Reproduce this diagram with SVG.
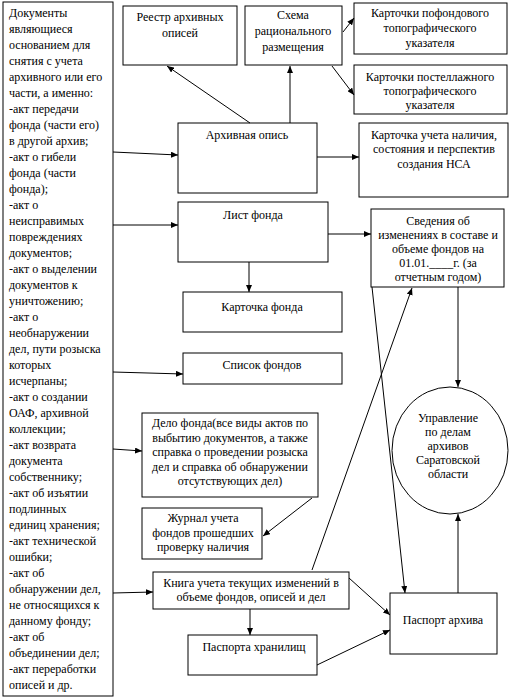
<svg xmlns="http://www.w3.org/2000/svg" width="509" height="700" viewBox="0 0 509 700" font-family="'Liberation Serif', 'Times New Roman', Times, 'DejaVu Serif', serif" font-size="12">
<style>
.box{fill:#fff;stroke:#000;stroke-width:1}
text{font-family:'Liberation Serif','Times New Roman',Times,'DejaVu Serif',serif;font-size:12px;fill:#000}
.c{text-anchor:middle}
.ln{stroke:#000;stroke-width:1;fill:none;marker-end:url(#ah)}
</style>
<defs>
<marker id="ah" markerUnits="userSpaceOnUse" markerWidth="8" markerHeight="6" refX="7" refY="3" orient="auto">
<path d="M0,0 L7,3 L0,6 z" fill="#000"/>
</marker>
</defs>
<rect x="0" y="0" width="509" height="700" fill="#fff"/>

<g id="docs">
<rect class="box" x="3" y="2" width="110" height="694"/>
<text x="9" y="17">
<tspan x="9" y="17">Документы</tspan>
<tspan x="9" dy="16">являющиеся</tspan>
<tspan x="9" dy="16">основанием для</tspan>
<tspan x="9" dy="16">снятия с учета</tspan>
<tspan x="9" dy="16">архивного или его</tspan>
<tspan x="9" dy="16">части, а именно:</tspan>
<tspan x="9" dy="16">-акт  передачи</tspan>
<tspan x="9" dy="16">фонда (части его)</tspan>
<tspan x="9" dy="16">в другой архив;</tspan>
<tspan x="9" dy="16">-акт о гибели</tspan>
<tspan x="9" dy="16">фонда (части</tspan>
<tspan x="9" dy="16">фонда);</tspan>
<tspan x="9" dy="16">-акт о</tspan>
<tspan x="9" dy="16">неисправимых</tspan>
<tspan x="9" dy="16">повреждениях</tspan>
<tspan x="9" dy="16">документов;</tspan>
<tspan x="9" dy="16">-акт о выделении</tspan>
<tspan x="9" dy="16">документов к</tspan>
<tspan x="9" dy="16">уничтожению;</tspan>
<tspan x="9" dy="16">-акт о</tspan>
<tspan x="9" dy="16">необнаружении</tspan>
<tspan x="9" dy="16">дел, пути розыска</tspan>
<tspan x="9" dy="16">которых</tspan>
<tspan x="9" dy="16">исчерпаны;</tspan>
<tspan x="9" dy="16">-акт о создании</tspan>
<tspan x="9" dy="16">ОАФ, архивной</tspan>
<tspan x="9" dy="16">коллекции;</tspan>
<tspan x="9" dy="16">-акт возврата</tspan>
<tspan x="9" dy="16">документа</tspan>
<tspan x="9" dy="16">собственнику;</tspan>
<tspan x="9" dy="16">-акт об изъятии</tspan>
<tspan x="9" dy="16">подлинных</tspan>
<tspan x="9" dy="16">единиц хранения;</tspan>
<tspan x="9" dy="16">-акт технической</tspan>
<tspan x="9" dy="16">ошибки;</tspan>
<tspan x="9" dy="16">-акт об</tspan>
<tspan x="9" dy="16">обнаружении дел,</tspan>
<tspan x="9" dy="16">не относящихся к</tspan>
<tspan x="9" dy="16">данному фонду;</tspan>
<tspan x="9" dy="16">-акт об</tspan>
<tspan x="9" dy="16">объединении дел;</tspan>
<tspan x="9" dy="16">-акт переработки</tspan>
<tspan x="9" dy="16">описей и др.</tspan>
</text>
</g>

<g id="reestr">
<rect class="box" x="123" y="6" width="114" height="59"/>
<text class="c" x="180" y="21">Реестр архивных</text>
<text class="c" x="180" y="37">описей</text>
</g>

<g id="schema">
<rect class="box" x="245" y="6" width="97" height="59"/>
<text class="c" x="293" y="19">Схема</text>
<text class="c" x="293" y="35">рационального</text>
<text class="c" x="293" y="51">размещения</text>
</g>

<g id="kartochki-pofond">
<rect class="box" x="354" y="3" width="153" height="51"/>
<text class="c" x="430" y="17">Карточки пофондового</text>
<text class="c" x="430" y="32">топографического</text>
<text class="c" x="430" y="47">указателя</text>
</g>

<g id="kartochki-postel">
<rect class="box" x="354" y="65" width="153" height="49"/>
<text class="c" x="430" y="81">Карточки постеллажного</text>
<text class="c" x="430" y="95">топографического</text>
<text class="c" x="430" y="109">указателя</text>
</g>

<g id="arh-opis">
<rect class="box" x="178" y="123" width="139" height="70"/>
<text class="c" x="247" y="139">Архивная опись</text>
</g>

<g id="kartochka-ucheta">
<rect class="box" x="359" y="123" width="149" height="74"/>
<text class="c" x="434" y="139">Карточка учета наличия,</text>
<text class="c" x="434" y="153">состояния и перспектив</text>
<text class="c" x="434" y="168">создания НСА</text>
</g>

<g id="list-fonda">
<rect class="box" x="178" y="202" width="150" height="60"/>
<text class="c" x="253" y="219">Лист фонда</text>
</g>

<g id="svedeniya">
<rect class="box" x="371" y="209" width="133" height="78"/>
<text class="c" x="438" y="225">Сведения об</text>
<text class="c" x="438" y="239">изменениях в составе и</text>
<text class="c" x="438" y="253">объеме фондов на</text>
<text class="c" x="438" y="267">01.01.____г. (за</text>
<text class="c" x="438" y="281">отчетным годом)</text>
</g>

<g id="kartochka-fonda">
<rect class="box" x="183" y="292" width="159" height="40"/>
<text class="c" x="262" y="311">Карточка фонда</text>
</g>

<g id="spisok-fondov">
<rect class="box" x="183" y="353" width="159" height="31"/>
<text class="c" x="262" y="369">Список фондов</text>
</g>

<g id="upravlenie">
<ellipse class="box" cx="450" cy="450.5" rx="58" ry="63.5"/>
<text class="c" x="448" y="422">Управление</text>
<text class="c" x="448" y="436">по делам</text>
<text class="c" x="448" y="450">архивов</text>
<text class="c" x="448" y="464">Саратовской</text>
<text class="c" x="448" y="478">области</text>
</g>

<g id="delo-fonda">
<rect class="box" x="142" y="413" width="176" height="84"/>
<text class="c" x="230" y="427">Дело фонда(все виды актов по</text>
<text class="c" x="230" y="442">выбытию документов, а также</text>
<text class="c" x="230" y="456">справка о проведении розыска</text>
<text class="c" x="230" y="471">дел и справка об обнаружении</text>
<text class="c" x="230" y="485">отсутствующих дел)</text>
</g>

<g id="zhurnal">
<rect class="box" x="142" y="508" width="120" height="51"/>
<text class="c" x="203" y="522">Журнал учета</text>
<text class="c" x="203" y="537">фондов прошедших</text>
<text class="c" x="203" y="551">проверку наличия</text>
</g>

<g id="kniga">
<rect class="box" x="153" y="572" width="196" height="37"/>
<text class="c" x="251" y="587">Книга учета текущих изменений в</text>
<text class="c" x="251" y="601">объеме фондов, описей и дел</text>
</g>

<g id="pasporta-hran">
<rect class="box" x="188" y="635" width="129" height="40"/>
<text class="c" x="254" y="651">Паспорта хранилищ</text>
</g>

<g id="pasport-arhiva">
<rect class="box" x="390" y="593" width="107" height="61"/>
<text class="c" x="443" y="624">Паспорт архива</text>
</g>

<g id="connectors">
<line class="ln" x1="113" y1="152" x2="178" y2="155"/>
<line class="ln" x1="250" y1="123" x2="167" y2="66"/>
<line class="ln" x1="290" y1="123" x2="290" y2="66"/>
<line class="ln" x1="343" y1="32" x2="354" y2="18"/>
<line class="ln" x1="332" y1="66" x2="354" y2="95"/>
<line class="ln" x1="317" y1="157" x2="359" y2="157"/>
<line class="ln" x1="113" y1="225" x2="178" y2="225"/>
<line class="ln" x1="328" y1="234" x2="371" y2="234"/>
<line class="ln" x1="249" y1="262" x2="249" y2="292"/>
<line class="ln" x1="113" y1="372" x2="183" y2="374"/>
<line class="ln" x1="458" y1="287" x2="458" y2="387"/>
<line class="ln" x1="372" y1="287" x2="405" y2="593"/>
<line class="ln" x1="312" y1="570" x2="412" y2="288"/>
<line class="ln" x1="113" y1="449" x2="142" y2="451"/>
<line class="ln" x1="312" y1="498" x2="263" y2="536"/>
<line class="ln" x1="458" y1="593" x2="458" y2="514"/>
<line class="ln" x1="113" y1="593" x2="153" y2="592"/>
<line class="ln" x1="250" y1="609" x2="250" y2="635"/>
<line class="ln" x1="349" y1="578" x2="390" y2="615"/>
<line class="ln" x1="317" y1="665" x2="390" y2="630"/>
</g>
</svg>
